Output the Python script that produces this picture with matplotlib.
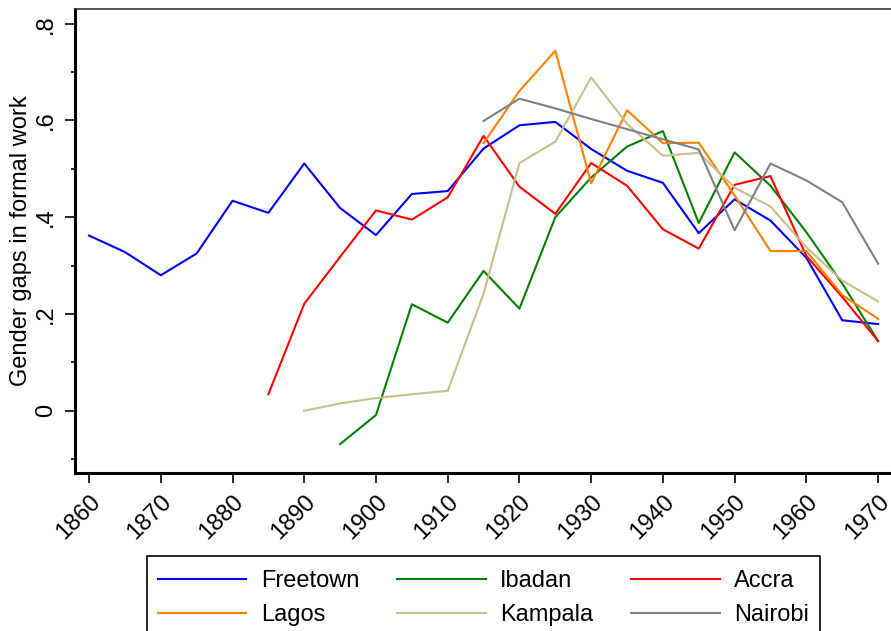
import matplotlib
matplotlib.use("Agg")
import matplotlib.pyplot as plt
from matplotlib.patches import Rectangle
import numpy as np

plt.rcParams['font.family'] = ['Liberation Sans', 'DejaVu Sans']

years_freetown = [1860, 1865, 1870, 1875, 1880, 1885, 1890, 1895, 1900, 1905, 1910,
                  1915, 1920, 1925, 1930, 1935, 1940, 1945, 1950, 1955, 1960, 1965, 1970]
freetown = [0.362, 0.328, 0.280, 0.325, 0.434, 0.409, 0.511, 0.419, 0.363, 0.448, 0.454,
            0.542, 0.590, 0.597, 0.541, 0.496, 0.471, 0.367, 0.437, 0.393, 0.316, 0.187, 0.179]

years_ibadan = [1895, 1900, 1905, 1910, 1915, 1920, 1925, 1930, 1935, 1940, 1945, 1950, 1955, 1960, 1965, 1970]
ibadan = [-0.069, -0.009, 0.220, 0.182, 0.289, 0.211, 0.400, 0.482, 0.546, 0.578, 0.388, 0.534, 0.465, 0.369, 0.263, 0.144]

years_accra = [1885, 1890, 1895, 1900, 1905, 1910, 1915, 1920, 1925, 1930, 1935, 1940, 1945, 1950, 1955, 1960, 1965, 1970]
accra = [0.034, 0.221, 0.318, 0.414, 0.395, 0.441, 0.568, 0.463, 0.407, 0.512, 0.465, 0.375, 0.335, 0.467, 0.485, 0.320, 0.235, 0.144]

years_lagos = [1915, 1920, 1925, 1930, 1935, 1940, 1945, 1950, 1955, 1960, 1965, 1970]
lagos = [0.553, 0.661, 0.744, 0.470, 0.621, 0.553, 0.554, 0.445, 0.330, 0.330, 0.239, 0.190]

years_kampala = [1890, 1895, 1900, 1905, 1910, 1915, 1920, 1925, 1930, 1935, 1940, 1945, 1950, 1955, 1960, 1965, 1970]
kampala = [0.000, 0.015, 0.026, 0.034, 0.041, 0.242, 0.512, 0.556, 0.689, 0.593, 0.527, 0.533, 0.461, 0.422, 0.338, 0.269, 0.226]

years_nairobi = [1915, 1920, 1925, 1930, 1935, 1940, 1945, 1950, 1955, 1960, 1965, 1970]
nairobi = [0.599, 0.645, 0.625, 0.603, 0.582, 0.561, 0.540, 0.373, 0.511, 0.476, 0.431, 0.304]

xticks = list(range(1860, 1971, 10))
yticks = [0, 0.2, 0.4, 0.6, 0.8]
ytick_labels = ["0", ".2", ".4", ".6", ".8"]

series = [
    ("Freetown", years_freetown, freetown, "#0000FF"),
    ("Ibadan", years_ibadan, ibadan, "#008000"),
    ("Accra", years_accra, accra, "#FF0000"),
    ("Lagos", years_lagos, lagos, "#FF8000"),
    ("Kampala", years_kampala, kampala, "#C8BE8A"),
    ("Nairobi", years_nairobi, nairobi, "#808080"),
]

FS = 17
W, H = 891, 631

fig = plt.figure(figsize=(8.91, 6.31), dpi=100)
ax = fig.add_axes([74.7/W, 1 - 473/H, 1 - 74.7/W, (473 - 9)/H])

lines = {}
for name, xs, ys, c in series:
    lines[name], = ax.plot(xs, ys, color=c, lw=1.5, label=name)

ax.set_xlim(1858.0, 1971.8)
ax.set_ylim(-0.1288, 0.8304)

ax.set_xticks(xticks)
ax.set_xticklabels([str(x) for x in xticks], rotation=45, ha='right',
                   rotation_mode='anchor', fontsize=FS)
ax.set_yticks(yticks)
ax.set_yticklabels(ytick_labels, rotation=90, va='center', fontsize=FS)
ax.set_yticks(np.arange(-0.1, 0.75, 0.2), minor=True)
ax.tick_params(axis='both', which='major', length=7, width=1.2, direction='out')
ax.tick_params(axis='y', which='major', pad=6)
ax.tick_params(axis='x', which='major', pad=6)
ax.tick_params(axis='y', which='minor', length=3, width=1.2, direction='out')

ax.set_ylabel("Gender gaps in formal work", fontsize=FS, va='center')
ax.yaxis.set_label_coords(-0.066, 0.5)

for s in ['left', 'bottom']:
    ax.spines[s].set_linewidth(2.2)
ax.spines['top'].set_linewidth(1.2)
ax.spines['top'].set_color('#333333')
ax.spines['right'].set_visible(False)

# legend frame (drawn separately so that its box matches the reference)
fig.patches.append(Rectangle((147/W, 1 - 645/H), (820 - 147)/W, (645 - 556)/H,
                             transform=fig.transFigure, fill=False,
                             edgecolor='black', linewidth=1.2))

# matplotlib fills legend columns first; order so rows read as in the reference
order = ["Freetown", "Lagos", "Ibadan", "Kampala", "Accra", "Nairobi"]
leg = fig.legend([lines[n] for n in order], order, ncol=3, loc='upper center',
                 bbox_to_anchor=(483.5/W, 1 - 556/H),
                 fontsize=FS, frameon=False,
                 handlelength=3.75, handletextpad=0.62, columnspacing=1.6,
                 borderpad=0.6, labelspacing=0.5, borderaxespad=0)

fig.savefig("out.png", dpi=100)
